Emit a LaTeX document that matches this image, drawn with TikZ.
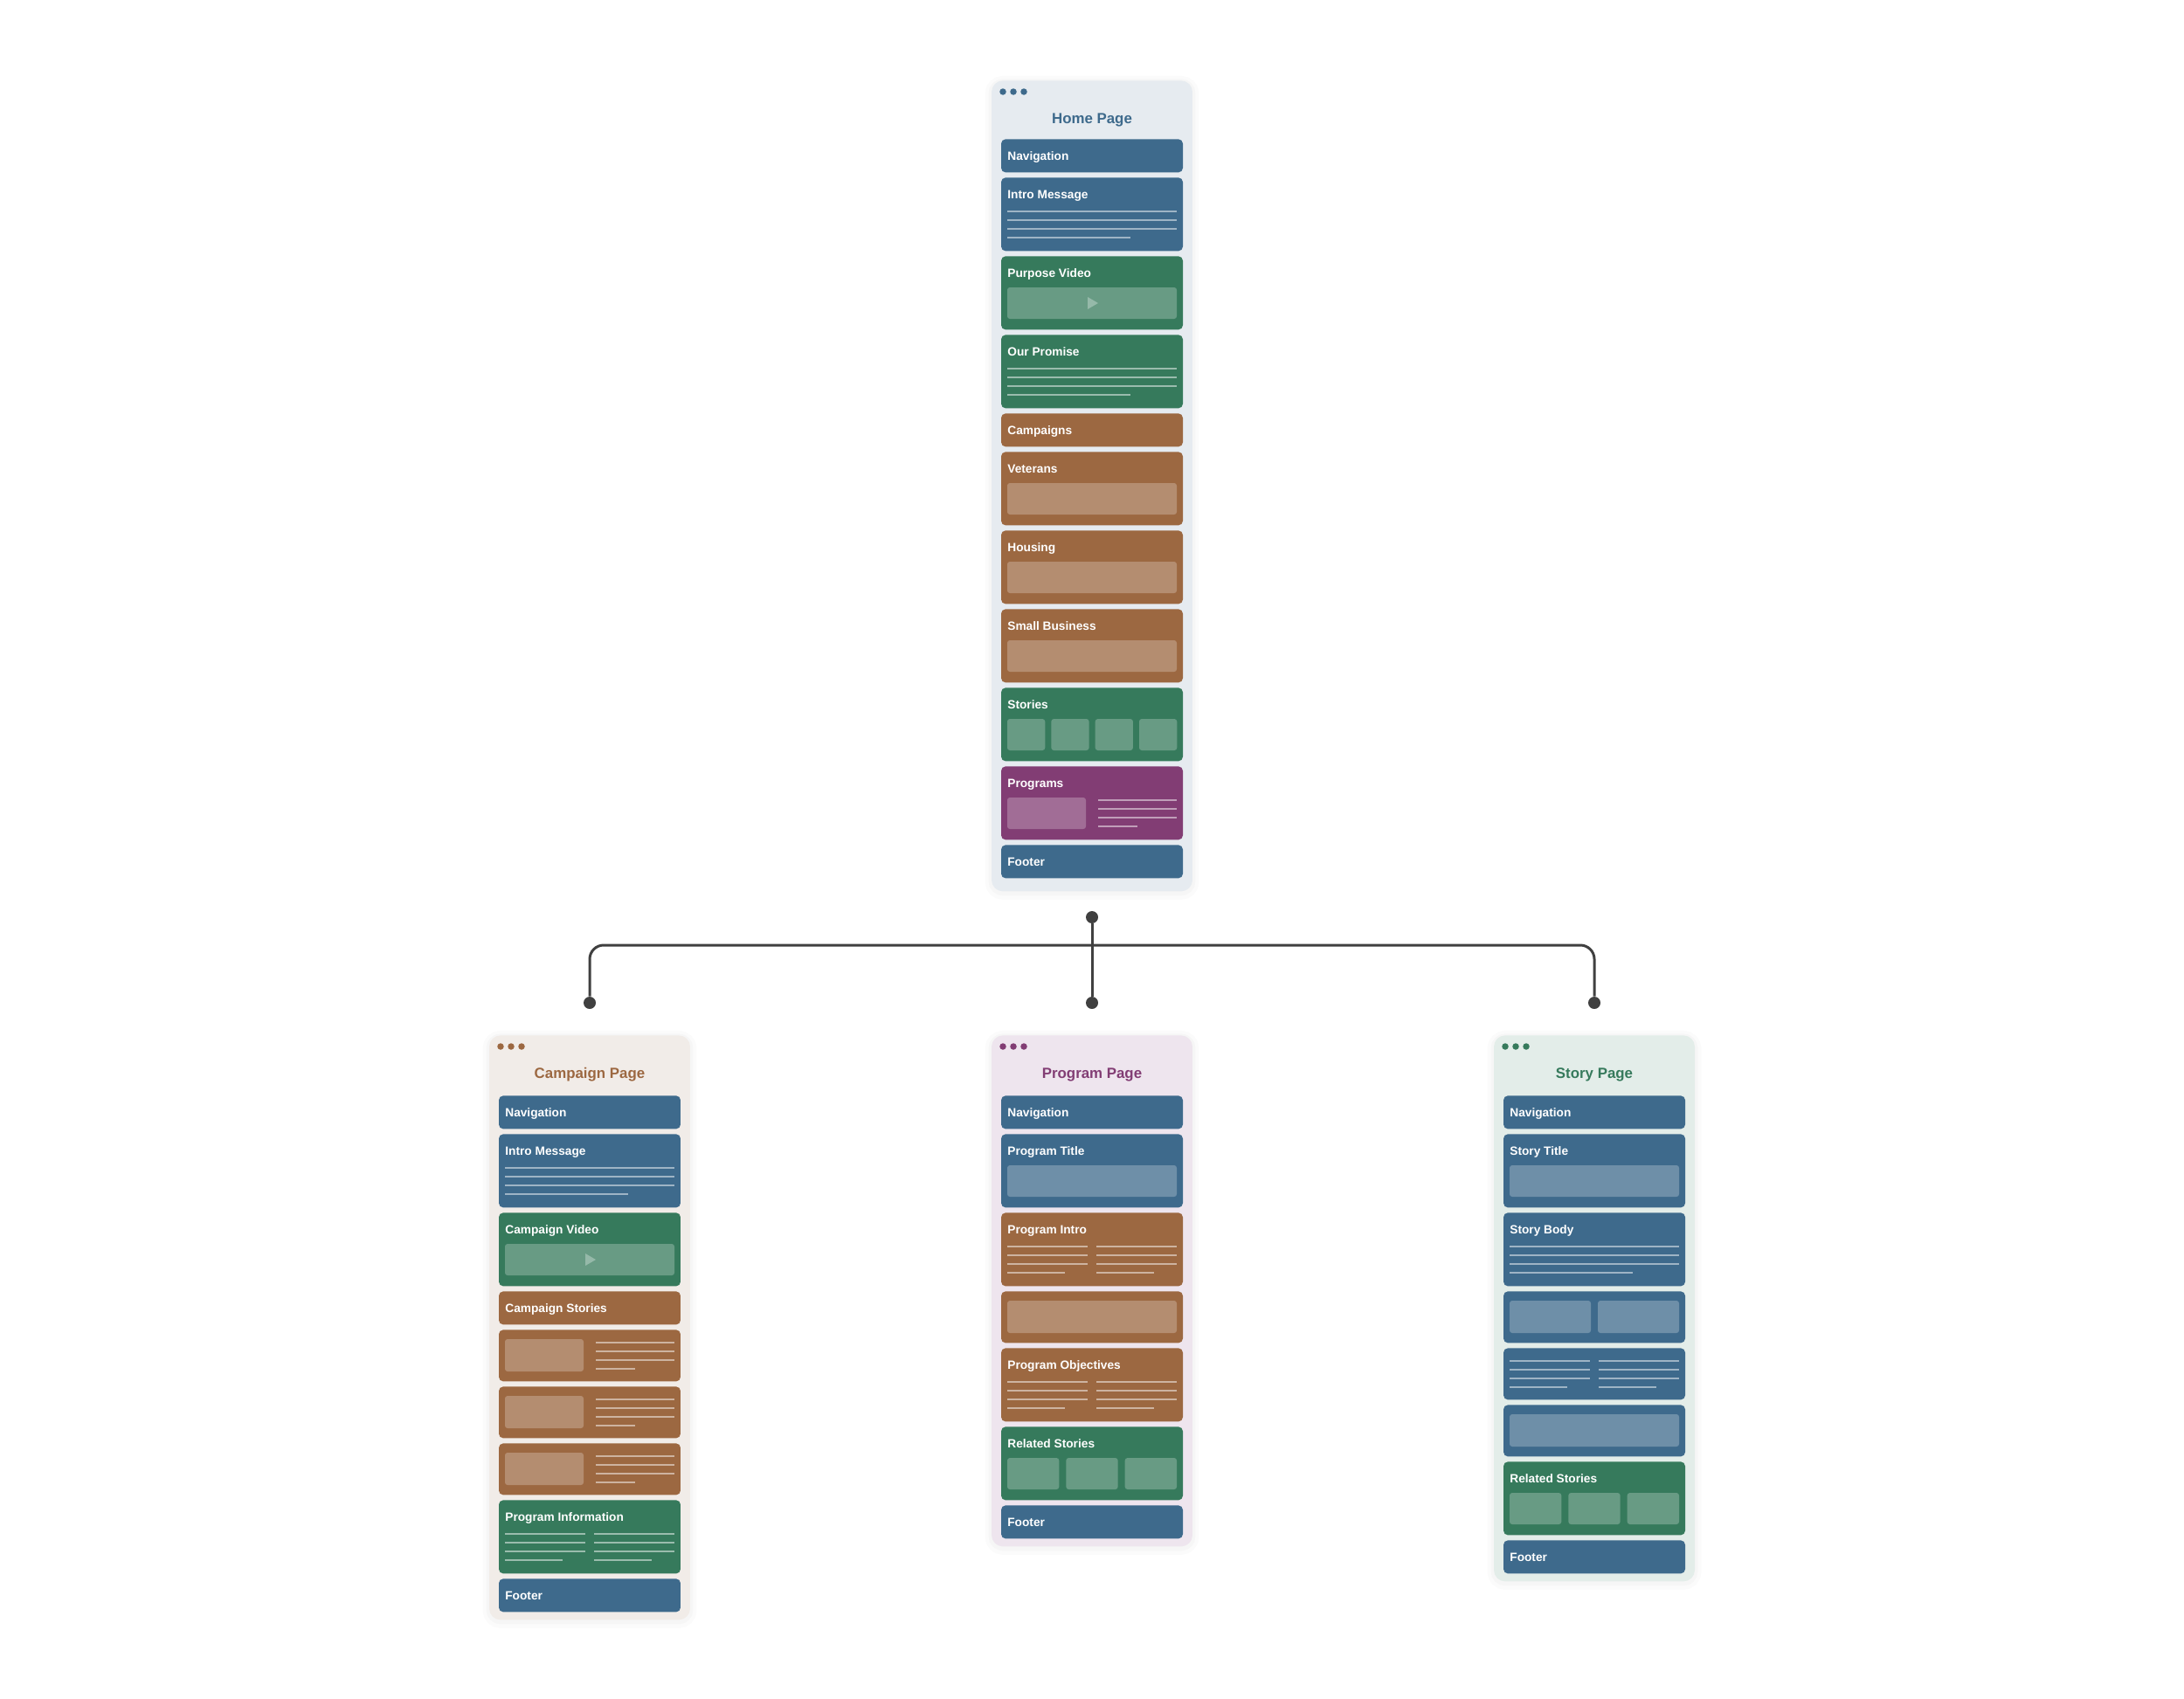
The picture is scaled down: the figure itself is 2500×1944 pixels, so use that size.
\documentclass[tikz,border=0pt]{standalone}
\usepackage{fontspec}
\setmainfont{Liberation Sans}
\usepackage{xcolor}
\usepackage{tikz}
\usetikzlibrary{positioning}

\definecolor{secblue}{HTML}{3E6A8C}
\definecolor{secgreen}{HTML}{367A5C}
\definecolor{secbrown}{HTML}{9C6841}
\definecolor{secpurple}{HTML}{823D74}
\definecolor{homebg}{HTML}{E6EBF0}
\definecolor{campbg}{HTML}{F1ECE8}
\definecolor{progbg}{HTML}{EEE5EE}
\definecolor{storybg}{HTML}{E3EDE9}
\definecolor{linkgrey}{HTML}{404040}

% block of a page: name, centre x, top y, height, colour, label
\newcommand{\sect}[6]{%
	\node[sect, fill=#5, minimum height=#4*0.02cm] (#1) at (#2,#3) {};
	\if\relax\detokenize{#6}\relax\else
		\node[seclabel] (#1-t) at (#2-97,#3+24) {#6};
	\fi}
% four text lines: left x, first y, width, width of last line
\newcommand{\txtlines}[4]{%
	\foreach \k in {0,1,2} {\draw[txtline] (#1,#2+10*\k) -- ++(#3,0);}
	\draw[txtline] (#1,#2+30) -- ++(#4,0);}
\newcommand{\phbox}[4]{\fill[ph] (#1,#2) rectangle (#3,#4);}
\newcommand{\play}[2]{\fill[playtri] (#1-5,#2-7) -- (#1-5,#2+7) -- (#1+7,#2) -- cycle;}
% page frame: name, centre x, top y, height, background, colour, title
\newcommand{\pageframe}[7]{%
	\node[pagebox, fill=#5, minimum height=#4*0.02cm] (#1) at (#2,#3) {};
	\foreach \d in {0,1,2} {\node[hdot=#6] at (#2-102+12*\d,#3+13) {};}
	\node[pagetitle, text=#6] (#1-title) at (#2,#3+49) {#7};}

\begin{document}
\begin{tikzpicture}[x=0.02cm, y=-0.02cm,
	sect/.style={rectangle, rounded corners=0.1cm, minimum width=4.16cm, inner sep=0pt, anchor=north},
	seclabel/.style={anchor=base west, inner sep=0pt, text=white, font=\fontsize{7.8}{9}\selectfont\bfseries},
	pagebox/.style={rectangle, rounded corners=0.26cm, minimum width=4.6cm, inner sep=0pt, anchor=north,
		preaction={draw=black, draw opacity=0.015, line width=0.3cm, transform canvas={yshift=-0.04cm}},
		preaction={draw=black, draw opacity=0.02, line width=0.14cm, transform canvas={yshift=-0.03cm}}},
	pagetitle/.style={anchor=base, inner sep=0pt, font=\fontsize{9.6}{11}\selectfont\bfseries},
	ph/.style={fill=white, fill opacity=0.25, rounded corners=0.06cm},
	txtline/.style={draw=white, draw opacity=0.5, line width=0.9pt},
	playtri/.style={fill=white, fill opacity=0.3},
	hdot/.style={circle, fill=#1, inner sep=0pt, minimum size=0.15cm},
	joint/.style={circle, fill=linkgrey, inner sep=0pt, minimum size=0.28cm},
	linkline/.style={draw=linkgrey, line width=1.7pt}]

	\fill[white] (0,0) rectangle (2500,1944);
	\useasboundingbox (0,0) rectangle (2500,1944);

	% home page
	\pageframe{home}{1250}{92}{928}{homebg}{secblue}{Home Page}
	\sect{hnav}{1250}{159}{38}{secblue}{Navigation}
	\sect{hintro}{1250}{203}{84}{secblue}{Intro Message}
	\txtlines{1153}{242}{194}{141}
	\sect{hvideo}{1250}{293}{84}{secgreen}{Purpose Video}
	\phbox{1153}{329}{1347}{365}
	\play{1250}{347}
	\sect{hpromise}{1250}{383}{84}{secgreen}{Our Promise}
	\txtlines{1153}{422}{194}{141}
	\sect{hcamp}{1250}{473}{38}{secbrown}{Campaigns}
	\sect{hvet}{1250}{517}{84}{secbrown}{Veterans}
	\phbox{1153}{553}{1347}{589}
	\sect{hhouse}{1250}{607}{84}{secbrown}{Housing}
	\phbox{1153}{643}{1347}{679}
	\sect{hsmall}{1250}{697}{84}{secbrown}{Small Business}
	\phbox{1153}{733}{1347}{769}
	\sect{hstories}{1250}{787}{84}{secgreen}{Stories}
	\foreach \b in {0,...,3} {\phbox{1153+50.33*\b}{823}{1196.25+50.33*\b}{859}}
	\sect{hprog}{1250}{877}{84}{secpurple}{Programs}
	\phbox{1153}{913}{1243}{949}
	\txtlines{1257}{916}{90}{45}
	\sect{hfoot}{1250}{967}{38}{secblue}{Footer}

	% connector
	\node[joint] (hub) at (1250,1050) {};
	\node[joint] (tocamp) at (675,1148) {};
	\node[joint] (toprog) at (1250,1148) {};
	\node[joint] (tostory) at (1825,1148) {};
	\coordinate (bar) at (1250,1082);
	\draw[linkline] (hub) -- (toprog);
	\draw[linkline, rounded corners=0.32cm] (tocamp) |- (bar) -| (tostory);

	% campaign page
	\pageframe{camp}{675}{1185}{669}{campbg}{secbrown}{Campaign Page}
	\sect{cnav}{675}{1254}{38}{secblue}{Navigation}
	\sect{cintro}{675}{1298}{84}{secblue}{Intro Message}
	\txtlines{578}{1337}{194}{141}
	\sect{cvideo}{675}{1388}{84}{secgreen}{Campaign Video}
	\phbox{578}{1424}{772}{1460}
	\play{675}{1442}
	\sect{cstories}{675}{1478}{38}{secbrown}{Campaign Stories}
	\foreach \c [count=\i] in {1522,1587,1652} {
		\sect{ccard\i}{675}{\c}{59}{secbrown}{}
		\phbox{578}{\c+11}{668}{\c+48}
		\txtlines{682}{\c+15}{90}{45}
	}
	\sect{cinfo}{675}{1717}{84}{secgreen}{Program Information}
	\txtlines{578}{1756}{92}{66}
	\txtlines{680}{1756}{92}{66}
	\sect{cfoot}{675}{1807}{38}{secblue}{Footer}

	% program page
	\pageframe{prog}{1250}{1185}{585}{progbg}{secpurple}{Program Page}
	\sect{pnav}{1250}{1254}{38}{secblue}{Navigation}
	\sect{ptitle}{1250}{1298}{84}{secblue}{Program Title}
	\phbox{1153}{1334}{1347}{1370}
	\sect{pintro}{1250}{1388}{84}{secbrown}{Program Intro}
	\txtlines{1153}{1427}{92}{66}
	\txtlines{1255}{1427}{92}{66}
	\sect{pimage}{1250}{1478}{59}{secbrown}{}
	\phbox{1153}{1489}{1347}{1526}
	\sect{pobj}{1250}{1543}{84}{secbrown}{Program Objectives}
	\txtlines{1153}{1582}{92}{66}
	\txtlines{1255}{1582}{92}{66}
	\sect{prelated}{1250}{1633}{84}{secgreen}{Related Stories}
	\foreach \b in {0,1,2} {\phbox{1153+67.33*\b}{1669}{1212.33+67.33*\b}{1705}}
	\sect{pfoot}{1250}{1723}{38}{secblue}{Footer}

	% story page
	\pageframe{story}{1825}{1185}{625}{storybg}{secgreen}{Story Page}
	\sect{snav}{1825}{1254}{38}{secblue}{Navigation}
	\sect{stitle}{1825}{1298}{84}{secblue}{Story Title}
	\phbox{1728}{1334}{1922}{1370}
	\sect{sbody}{1825}{1388}{84}{secblue}{Story Body}
	\txtlines{1728}{1427}{194}{141}
	\sect{simages}{1825}{1478}{59}{secblue}{}
	\phbox{1728}{1489}{1821}{1526}
	\phbox{1829}{1489}{1922}{1526}
	\sect{stext}{1825}{1543}{59}{secblue}{}
	\txtlines{1728}{1558}{92}{66}
	\txtlines{1830}{1558}{92}{66}
	\sect{simage}{1825}{1608}{59}{secblue}{}
	\phbox{1728}{1619}{1922}{1656}
	\sect{srelated}{1825}{1673}{84}{secgreen}{Related Stories}
	\foreach \b in {0,1,2} {\phbox{1728+67.33*\b}{1709}{1787.33+67.33*\b}{1745}}
	\sect{sfoot}{1825}{1763}{38}{secblue}{Footer}
\end{tikzpicture}
\end{document}
